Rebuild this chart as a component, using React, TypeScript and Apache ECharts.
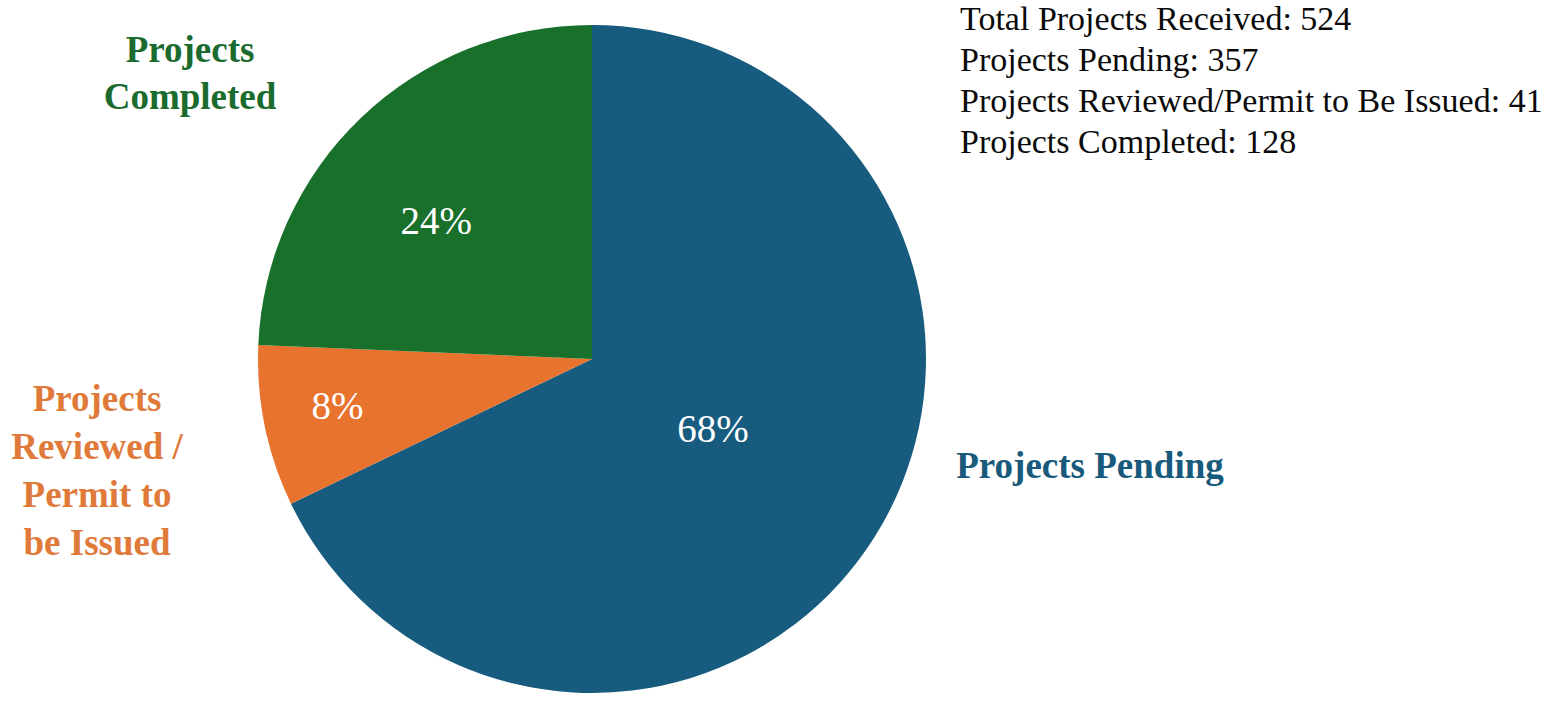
import React, { useEffect, useRef } from "react";
import * as echarts from "echarts";

const categories = ["Projects Pending", "Projects Reviewed / Permit to be Issued", "Projects Completed"];
const displayLabels = ["Projects Pending", "Projects\nReviewed /\nPermit to\nbe Issued", "Projects\nCompleted"];
const values = [357, 41, 128];
const sliceColors = ["#175b7e", "#e8732f", "#19702a"];
const labelColors = ["#185a7b", "#e07a3a", "#1b6b2f"];
const totalReceived = 524;
const statLabels = ["Total Projects Received", "Projects Pending", "Projects Reviewed/Permit to Be Issued", "Projects Completed"];
const statValues = [totalReceived, values[0], values[1], values[2]];

const insideOffsets: [number, number][] = [[-23, -21], [-88, 12], [-38, -16]];
const outerPos: [number, number][] = [[1090, 465], [97, 470], [190, 73]];
const outerLineHeights = [44, 48, 47];

const FONT = "'Liberation Serif', 'Times New Roman', serif";

export default function App() {
  const ref = useRef<HTMLDivElement>(null);
  useEffect(() => {
    if (!ref.current) return;
    const chart = echarts.init(ref.current, null, { renderer: "svg" });
    const data = categories.map((name, i) => ({
      name,
      value: values[i],
      itemStyle: { color: sliceColors[i] },
      label: { offset: insideOffsets[i] },
    }));
    const graphics: any[] = displayLabels.map((t, i) => ({
      type: "text",
      x: outerPos[i][0],
      y: outerPos[i][1],
      silent: true,
      style: {
        text: t,
        fill: labelColors[i],
        fontFamily: FONT,
        fontWeight: "bold",
        fontSize: 37,
        lineHeight: outerLineHeights[i],
        align: "center",
        verticalAlign: "middle",
      },
    }));
    graphics.push({
      type: "text",
      x: 960,
      y: -2,
      silent: true,
      style: {
        text: statLabels.map((l, i) => `${l}: ${statValues[i]}`).join("\n"),
        fill: "#0a0a0a",
        fontFamily: FONT,
        fontSize: 34,
        lineHeight: 41,
        align: "left",
        verticalAlign: "top",
      },
    });
    chart.setOption({
      animation: false,
      backgroundColor: "#ffffff",
      graphic: graphics,
      series: [
        {
          type: "pie",
          center: [592, 359],
          radius: 334,
          startAngle: 90,
          clockwise: true,
          percentPrecision: 0,
          silent: true,
          label: {
            show: true,
            position: "inside",
            formatter: "{d}%",
            color: "#ffffff",
            fontFamily: FONT,
            fontSize: 39,
          },
          labelLine: { show: false },
          itemStyle: { borderWidth: 0 },
          emphasis: { disabled: true },
          data,
        },
      ],
    });
    return () => chart.dispose();
  }, []);
  return <div ref={ref} style={{ position: "fixed", left: 0, top: 0, width: 1555, height: 713 }} />;
}
